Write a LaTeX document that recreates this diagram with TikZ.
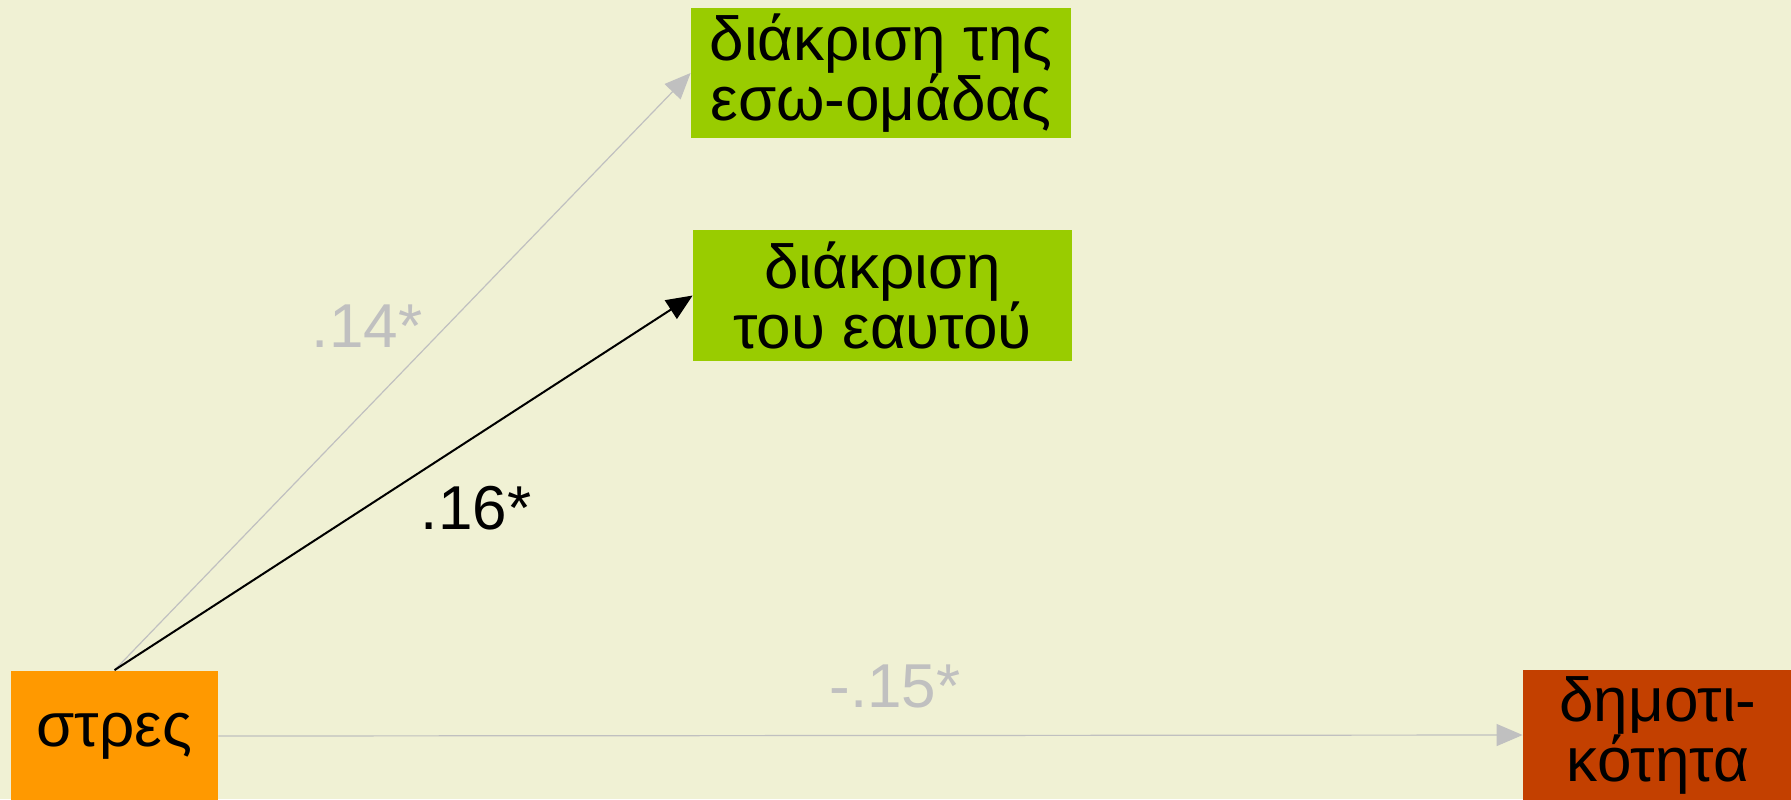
\documentclass[tikz,border=0pt]{standalone}
\usepackage{fontspec}
\setmainfont{Liberation Sans}
\usetikzlibrary{arrows.meta}

\definecolor{bgcream}{HTML}{F0F1D4}
\definecolor{boxgreen}{HTML}{99CC00}
\definecolor{boxorange}{HTML}{FF9900}
\definecolor{boxrust}{HTML}{C34000}
\definecolor{pathgrey}{HTML}{C0C0C0}

\tikzset{
  var/.style={rectangle,inner sep=0pt,align=center,text=black,
    font=\fontsize{31}{30}\selectfont},
  coef/.style={anchor=base,font=\fontsize{31}{30}\selectfont},
  weak/.style={draw=pathgrey,line width=0.6pt,
    -{Triangle[length=13pt,width=11pt]}},
  strong/.style={draw=black,line width=1pt,
    -{Triangle[length=13pt,width=11pt]}}
}

\begin{document}
\begin{tikzpicture}[x=0.5pt,y=-0.5pt]
  \fill[bgcream] (0,0) rectangle (1791,799);
  \useasboundingbox (0,0) rectangle (1791,799);
  \clip (0,0) rectangle (1791,799);

  \node[var,fill=boxorange,minimum width=103.5pt,minimum height=65.5pt]
    (stres) at (114.5,736) {στρες};
  \node[var,fill=boxgreen,minimum width=190pt,minimum height=65pt]
    (ingroup) at (881,73) {διάκριση της\\εσω-ομάδας};
  \node[var,fill=boxgreen,minimum width=189.5pt,minimum height=65.5pt]
    (self) at (882.5,295.5) {διάκριση\\του εαυτού};
  \node[var,fill=boxrust,minimum width=135pt,minimum height=65.5pt]
    (popul) at (1658,735) {δημοτι-\\κότητα};

  \draw[weak] (stres.north) -- (ingroup.west);
  \draw[strong] (stres.north) -- (self.west);
  \draw[weak] (stres.east) -- (popul.west);

  \node[coef,text=pathgrey] (c14) at (367,347) {.14*};
  \node[coef,text=black] (c16) at (476,529) {.16*};
  \node[coef,text=pathgrey] (c15) at (895,707) {-.15*};

\end{tikzpicture}
\end{document}
